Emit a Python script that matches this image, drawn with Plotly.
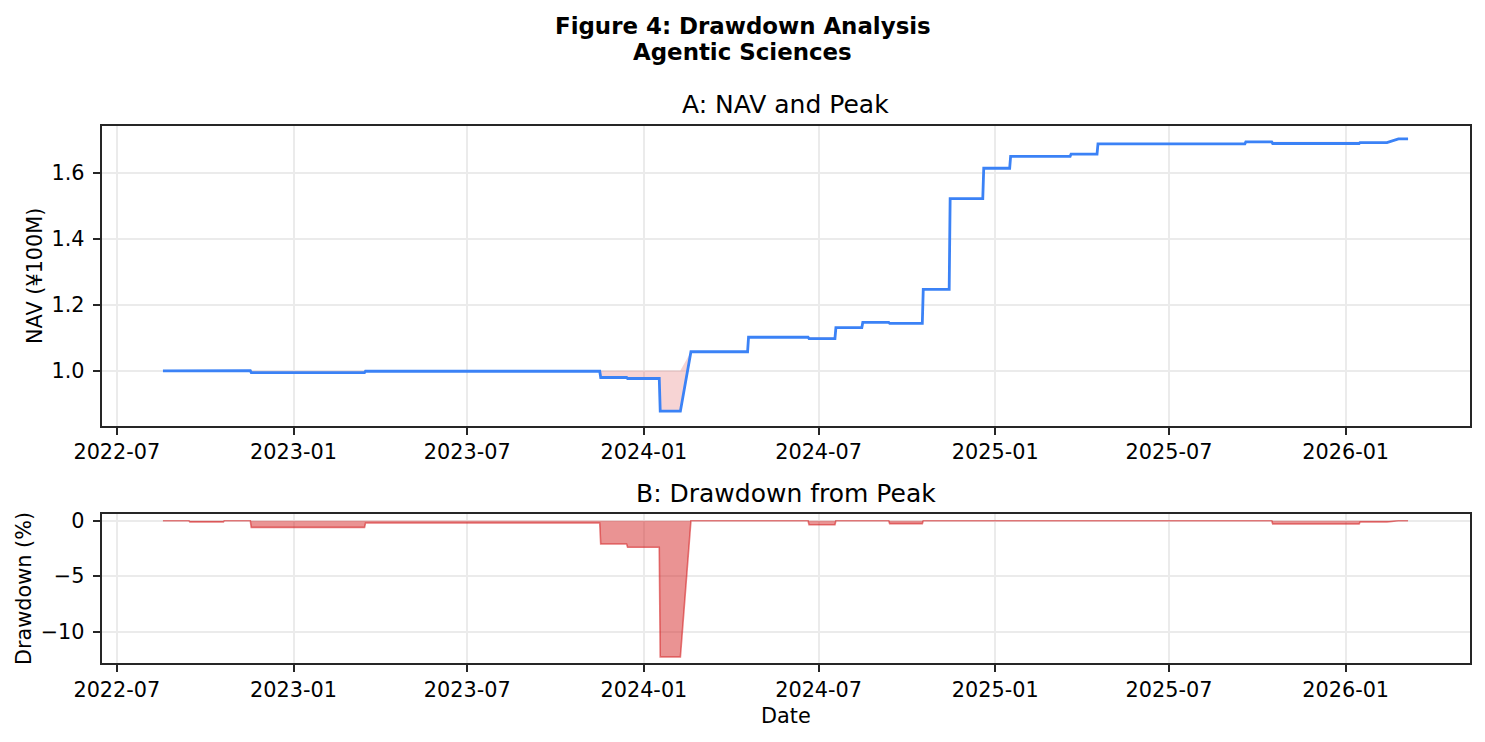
import numpy as np
import pandas as pd
import plotly.graph_objects as go

# ---- data (NAV in ¥100M) ----
dates = [
    "2022-08-18", "2022-09-14", "2022-09-15", "2022-10-20", "2022-10-21",
    "2022-11-17", "2022-11-18", "2023-03-16", "2023-03-17", "2023-11-16",
    "2023-11-17", "2023-12-14", "2023-12-15", "2024-01-17", "2024-01-18",
    "2024-02-08", "2024-02-19", "2024-04-18", "2024-04-19", "2024-06-20",
    "2024-06-21", "2024-07-18", "2024-07-19", "2024-08-15", "2024-08-16",
    "2024-09-12", "2024-09-13", "2024-10-17", "2024-10-18", "2024-11-14",
    "2024-11-15", "2024-12-19", "2024-12-20", "2025-01-16", "2025-01-17",
    "2025-03-20", "2025-03-21", "2025-04-17", "2025-04-18", "2025-09-18",
    "2025-09-19", "2025-10-16", "2025-10-17", "2026-01-15", "2026-01-16",
    "2026-02-13", "2026-02-25", "2026-03-07",
]
nav = [
    1.000, 1.000, 0.999, 0.999, 1.001,
    1.001, 0.995, 0.995, 0.999, 0.999,
    0.980, 0.980, 0.977, 0.977, 0.878,
    0.878, 1.058, 1.058, 1.102, 1.102,
    1.098, 1.098, 1.131, 1.131, 1.147,
    1.147, 1.144, 1.144, 1.247, 1.247,
    1.522, 1.522, 1.614, 1.614, 1.650,
    1.650, 1.657, 1.657, 1.688, 1.688,
    1.694, 1.694, 1.689, 1.689, 1.692,
    1.692, 1.703, 1.703,
]

xtick_vals = ["2022-07-01", "2023-01-01", "2023-07-01", "2024-01-01",
              "2024-07-01", "2025-01-01", "2025-07-01", "2026-01-01"]
xtick_text = ["2022-07", "2023-01", "2023-07", "2024-01",
              "2024-07", "2025-01", "2025-07", "2026-01"]
nav_tick_vals = [1.0, 1.2, 1.4, 1.6]
nav_tick_text = ["1.0", "1.2", "1.4", "1.6"]
dd_tick_vals = [0, -5, -10]
dd_tick_text = ["0", "\u22125", "\u221210"]

title_line1 = "Figure 4: Drawdown Analysis"
title_line2 = "Agentic Sciences"
panel_a_title = "A: NAV and Peak"
panel_b_title = "B: Drawdown from Peak"

# ---- derived series ----
x = pd.to_datetime(dates)
nav_arr = np.array(nav)
peak = np.maximum.accumulate(nav_arr)
drawdown = (nav_arr / peak - 1.0) * 100.0

W, H = 1485, 742
FONT = "DejaVu Sans"


def fx(px):
    return px / W


def fy(py):
    return 1 - py / H


fig = go.Figure()
fig.add_trace(go.Scatter(x=x, y=peak, mode="lines",
                         line=dict(width=0, color="rgba(0,0,0,0)"),
                         hoverinfo="skip", xaxis="x", yaxis="y"))
fig.add_trace(go.Scatter(x=x, y=nav_arr, mode="lines",
                         line=dict(color="#3b82f6", width=2.8),
                         fill="tonexty", fillcolor="rgba(214,39,40,0.2)",
                         xaxis="x", yaxis="y"))
fig.add_trace(go.Scatter(x=x, y=drawdown, mode="lines",
                         line=dict(color="rgba(214,39,40,0.6)", width=1.6),
                         fill="tozeroy", fillcolor="rgba(214,39,40,0.5)",
                         xaxis="x2", yaxis="y2"))

axis_common = dict(
    showline=True, mirror=True, linecolor="#262626", linewidth=1.6,
    ticks="outside", ticklen=7, tickwidth=1.6, tickcolor="#262626",
    showgrid=True, gridcolor="#ebebeb", gridwidth=1.6, zeroline=False,
    automargin=False,
    tickfont=dict(family=FONT, size=20.8, color="black"),
)

xdom = [fx(101.5), fx(1469.5)]
xrange_ = ["2022-06-15", "2026-05-10"]

fig.update_layout(
    width=W, height=H,
    margin=dict(l=0, r=0, t=0, b=0, autoexpand=False),
    paper_bgcolor="white", plot_bgcolor="white",
    showlegend=False,
    font=dict(family=FONT, color="black"),
    xaxis=dict(domain=xdom, anchor="y", range=xrange_, type="date",
               tickmode="array", tickvals=xtick_vals, ticktext=xtick_text,
               **axis_common),
    yaxis=dict(domain=[fy(425.7), fy(125.7)], anchor="x", range=[0.834, 1.743],
               tickmode="array", tickvals=nav_tick_vals, ticktext=nav_tick_text,
               ticklabelstandoff=4, **axis_common),
    xaxis2=dict(domain=xdom, anchor="y2", range=xrange_, type="date",
                tickmode="array", tickvals=xtick_vals, ticktext=xtick_text,
                **axis_common),
    yaxis2=dict(domain=[fy(663.3), fy(514)], anchor="x2", range=[-12.87, 0.61],
                tickmode="array", tickvals=dd_tick_vals, ticktext=dd_tick_text,
                ticklabelstandoff=4, **axis_common),
)

ann = []


def add_text(text, px, py, size, bold=False, angle=0):
    ann.append(dict(
        text=f"<b>{text}</b>" if bold else text,
        x=fx(px), y=fy(py), xref="paper", yref="paper",
        xanchor="center", yanchor="middle", showarrow=False,
        textangle=angle, font=dict(family=FONT, size=size, color="black"),
    ))


add_text(title_line1, 742.5, 26, 22.9, bold=True)
add_text(title_line2, 742.5, 52, 22.9, bold=True)
add_text(panel_a_title, 785.5, 105, 25)
add_text(panel_b_title, 785.5, 494, 25)
add_text("NAV (¥100M)", 35, 276, 20.8, angle=-90)
add_text("Drawdown (%)", 24, 589, 20.8, angle=-90)
add_text("Date", 785.5, 716, 20.8)
fig.update_layout(annotations=ann)

fig.write_html("out.html")
